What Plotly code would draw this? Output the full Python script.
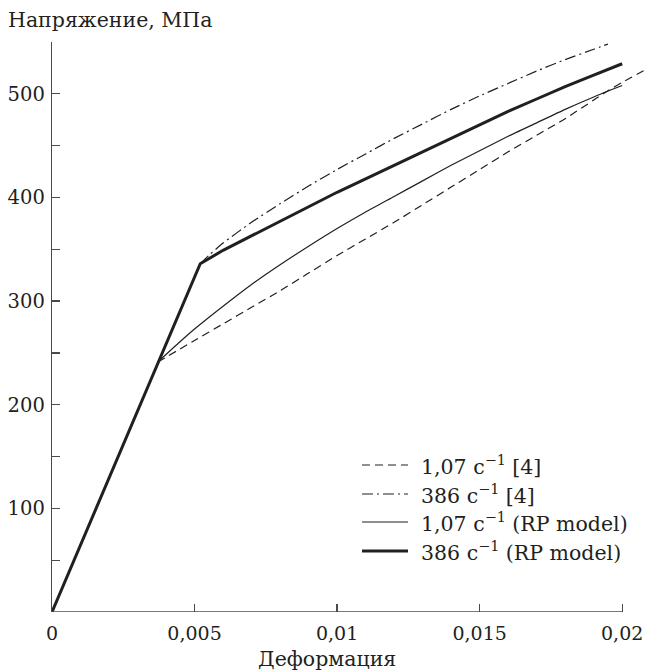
import plotly.graph_objects as go

# ---- data ----
strain_exp107 = [0.0037, 0.005, 0.006, 0.007, 0.008, 0.009, 0.010, 0.011, 0.012, 0.013,
                 0.014, 0.015, 0.016, 0.017, 0.018, 0.019, 0.0195, 0.020, 0.0208]
stress_exp107 = [241, 262, 278, 294, 310, 327, 344, 360, 376, 393,
                 410, 427, 444, 460, 476, 494, 503, 511, 523]

strain_exp386 = [0.0052, 0.0055, 0.006, 0.007, 0.008, 0.009, 0.010, 0.011, 0.012, 0.013,
                 0.014, 0.015, 0.016, 0.017, 0.018, 0.019, 0.0195]
stress_exp386 = [336, 344, 356, 376, 394, 411, 427, 442, 457, 471,
                 485, 498, 510, 522, 533, 543, 548]

strain_rp107 = [0.0037, 0.0045, 0.005, 0.006, 0.007, 0.008, 0.009, 0.010, 0.011, 0.012,
                0.013, 0.014, 0.015, 0.016, 0.017, 0.018, 0.019, 0.020]
stress_rp107 = [241, 261, 273, 295, 316, 335, 353, 370, 386, 401,
                416, 431, 445, 459, 472, 485, 497, 508]

strain_rp386 = [0, 0.0052, 0.006, 0.007, 0.008, 0.009, 0.010, 0.011, 0.012, 0.013,
                0.014, 0.015, 0.016, 0.017, 0.018, 0.019, 0.020]
stress_rp386 = [0, 336, 349, 363, 377, 391, 405, 418, 431, 444,
                457, 470, 483, 495, 507, 518, 529]

legend_labels = ["1,07 с<sup>−1</sup> [4]", "386 с<sup>−1</sup> [4]",
                 "1,07 с<sup>−1</sup> (RP model)", "386 с<sup>−1</sup> (RP model)"]

x_tickvals = [0, 0.005, 0.01, 0.015, 0.02]
x_ticktext = ["0", "0,005", "0,01", "0,015", "0,02"]
y_tickvals = [50, 100, 150, 200, 250, 300, 350, 400, 450, 500, 550]
y_ticktext = ["", "100", "", "200", "", "300", "", "400", "", "500", ""]

# ---- styling ----
INK = "#231f20"
AXC = "#4a4a4a"
FONT = "DejaVu Serif, serif"
FS = 20.5
FS_TICK = 19.5
W, H = 645, 671
# plot area in window pixels: x 52..645, y 42..612
ML, MR, MT, MB = 52, 0, 42, 671 - 612
PW, PH = W - ML - MR, H - MT - MB


def px2paper(px, py):
    return (px - ML) / PW, (H - MB - py) / PH


styles = [
    dict(color=INK, width=1.2, dash="8px,5px"),
    dict(color=INK, width=1.2, dash="11px,4px,2px,4px"),
    dict(color=INK, width=1.2),
    dict(color=INK, width=3.0),
]
shapes_ = ["spline", "spline", "spline", "linear"]
series = [
    (strain_exp107, stress_exp107),
    (strain_exp386, stress_exp386),
    (strain_rp107, stress_rp107),
    (strain_rp386, stress_rp386),
]

fig = go.Figure()
for (xs, ys), st, shp, name in zip(series, styles, shapes_, legend_labels):
    line = dict(st)
    line["shape"] = shp
    if shp == "spline":
        line["smoothing"] = 0.6
    fig.add_trace(go.Scatter(x=xs, y=ys, mode="lines", line=line, name=name,
                             showlegend=False, hoverinfo="skip"))

# x axis line ending at 0.02
fig.add_shape(type="line", xref="x", yref="y", x0=0, x1=0.02, y0=0, y1=0,
              line=dict(color=AXC, width=1.3), layer="above")

# manual legend (line samples + text)
rows_y = [465, 494, 522, 551]
for st, name, ry in zip(styles, legend_labels, rows_y):
    x0, y0 = px2paper(362, ry)
    x1, _ = px2paper(408, ry)
    fig.add_shape(type="line", xref="paper", yref="paper", x0=x0, x1=x1, y0=y0, y1=y0,
                  line=st)
    tx, _ = px2paper(419, ry)
    fig.add_annotation(xref="paper", yref="paper", x=tx, y=y0, xanchor="left",
                       yanchor="middle", text=name, showarrow=False,
                       font=dict(family=FONT, size=FS, color=INK))

# axis titles
tx, ty = px2paper(6, 34)
fig.add_annotation(xref="paper", yref="paper", x=tx, y=ty, xanchor="left", yanchor="bottom",
                   text="Напряжение, МПа", showarrow=False,
                   font=dict(family=FONT, size=FS, color=INK))
fig.add_annotation(xref="x", yref="paper", x=0.00965, y=0, yshift=-33,
                   xanchor="center", yanchor="top", text="Деформация", showarrow=False,
                   font=dict(family=FONT, size=FS, color=INK))

fig.update_layout(
    width=W, height=H,
    margin=dict(l=ML, r=MR, t=MT, b=MB, autoexpand=False),
    paper_bgcolor="white", plot_bgcolor="white",
    font=dict(family=FONT, size=FS, color=INK),
    showlegend=False,
    xaxis=dict(range=[0, 0.0208], showgrid=False, zeroline=False, showline=False,
               automargin=False, ticklabeloverflow="allow", ticklabelstandoff=8,
               tickvals=x_tickvals, ticktext=x_ticktext, ticks="inside", ticklen=8,
               tickwidth=1.3, tickcolor=AXC,
               tickfont=dict(family=FONT, size=19, color=INK),
               fixedrange=True),
    yaxis=dict(range=[0, 550], showgrid=False, zeroline=False, showline=True,
               automargin=False, ticklabeloverflow="allow",
               linecolor=AXC, linewidth=1.3,
               tickvals=y_tickvals, ticktext=y_ticktext, ticks="inside", ticklen=8,
               tickwidth=1.3, tickcolor=AXC, ticklabelstandoff=2,
               tickfont=dict(family=FONT, size=FS_TICK, color=INK), fixedrange=True),
)

fig.write_html(
    "out.html",
    config={"displayModeBar": False, "staticPlot": True},
    post_script="document.body.style.margin='0';document.body.style.overflow='hidden';",
)
